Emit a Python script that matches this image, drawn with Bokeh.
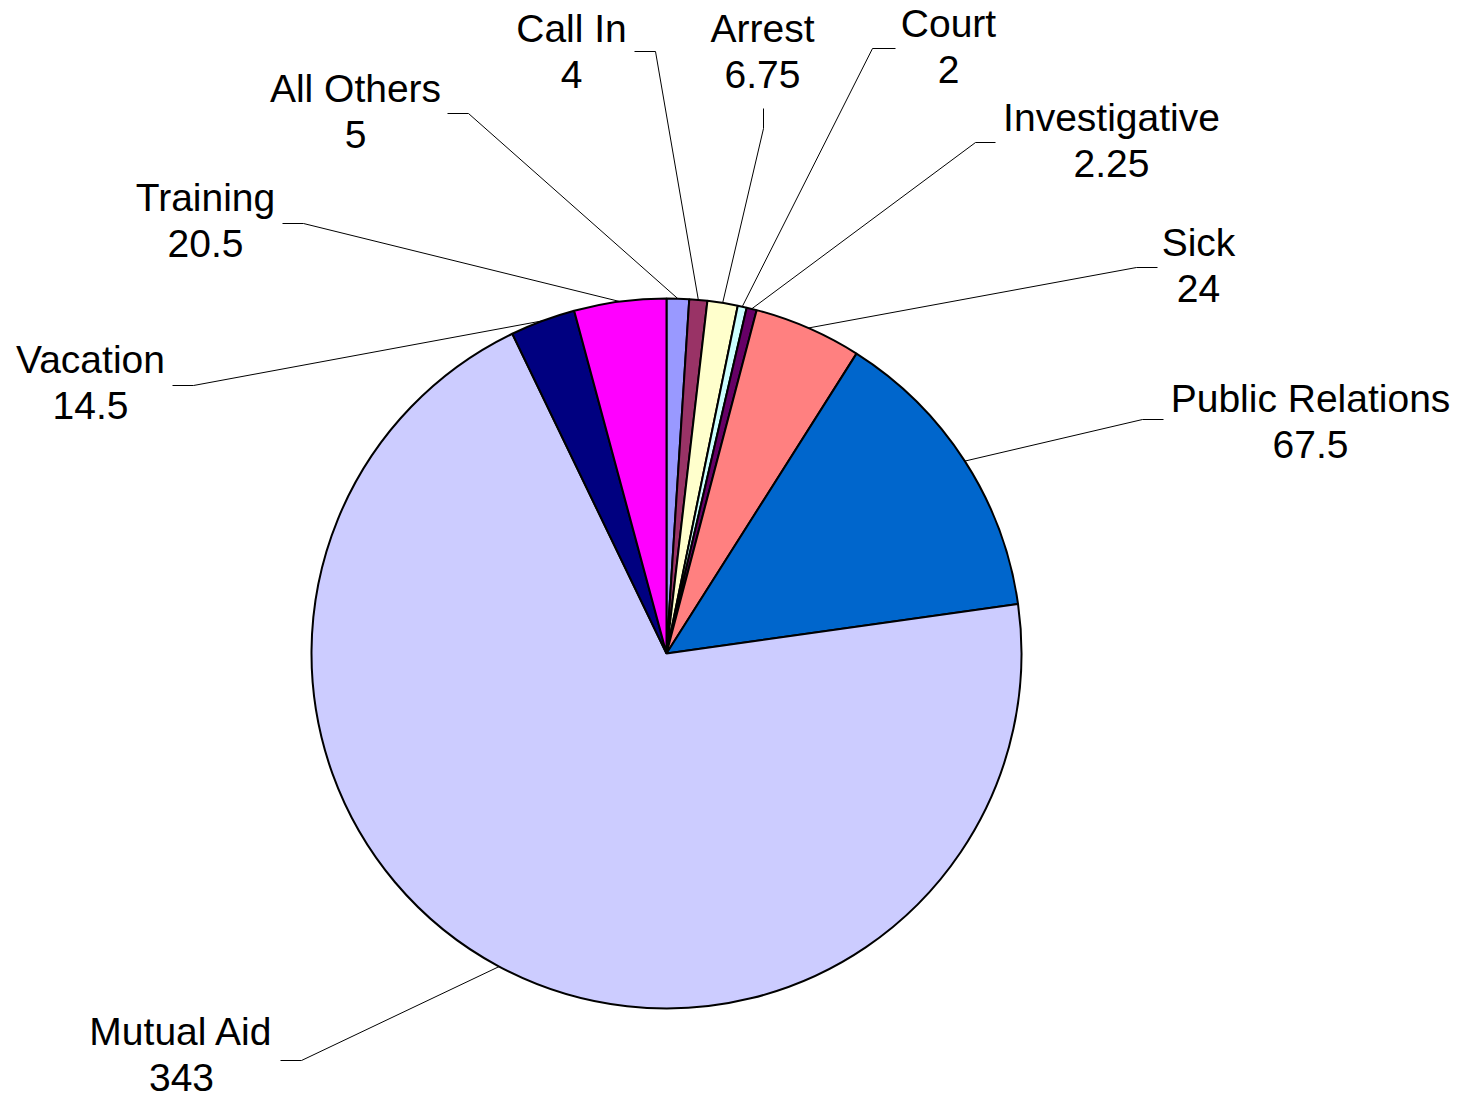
import math
from bokeh.plotting import figure
from bokeh.models import Range1d, ColumnDataSource
from bokeh.core.properties import value
from bokeh.embed import file_html
from bokeh.resources import INLINE

# ---- data ----
categories = ["All Others", "Call In", "Arrest", "Court", "Investigative",
              "Sick", "Public Relations", "Mutual Aid", "Vacation", "Training"]
values = [5, 4, 6.75, 2, 2.25, 24, 67.5, 343, 14.5, 20.5]
value_labels = ["5", "4", "6.75", "2", "2.25", "24", "67.5", "343", "14.5", "20.5"]
colors = ["#9999FF", "#993366", "#FFFFCC", "#CCFFFF", "#660066",
          "#FF8080", "#0066CC", "#CCCCFF", "#000080", "#FF00FF"]

# ---- layout (picture pixel coordinates, y downward) ----
FW, FH = 1450, 1103
H = 1119
CX, CY, R = 666, 653, 355
TEXT_SHIFT = 15  # rendered baseline offset correction
label_x = [355, 571, 762, 948, 1111, 1198, 1310, 181, 90, 205]
label_y = [103, 43, 43, 38, 132, 257, 413, 1046, 374, 212]
# leader: outer point near label, elbow point
lead_outer = [(447, 113), (634, 51), (763, 108), (895, 48), (995, 142),
              (1157, 267), (1163, 419), (280, 1060), (172, 385), (282, 223)]
lead_elbow = [(468, 113), (655, 51), (763, 128), (872, 48), (975, 142),
              (1136, 267), (1142, 419), (301, 1060), (193, 385), (303, 223)]

def fy(py):
    return H - py

total = sum(values)
starts, ends, mids = [], [], []
c = 0.0
for v in values:
    a0 = math.pi / 2 - 2 * math.pi * c / total
    c += v
    a1 = math.pi / 2 - 2 * math.pi * c / total
    starts.append(a0)
    ends.append(a1)
    mids.append((a0 + a1) / 2)

p = figure(width=FW, height=FH, x_range=Range1d(0, FW), y_range=Range1d(H - FH, H),
           output_backend="svg", toolbar_location=None, min_border=0)
p.axis.visible = False
p.grid.visible = False
p.outline_line_color = None
p.background_fill_color = "white"
p.border_fill_color = "white"

src = ColumnDataSource(dict(start=starts, end=ends, color=colors, cat=categories))
p.wedge(x=CX, y=fy(CY), radius=R, start_angle="start", end_angle="end",
        direction="clock", fill_color="color", line_color="black", line_width=2,
        source=src)

xs, ys = [], []
for i, m in enumerate(mids):
    ex = CX + R * math.cos(m)
    ey = fy(CY) + R * math.sin(m)
    xs.append([lead_outer[i][0], lead_elbow[i][0], ex])
    ys.append([fy(lead_outer[i][1]), fy(lead_elbow[i][1]), ey])
p.multi_line(xs=xs, ys=ys, line_color="black", line_width=1)

p.text(x=label_x, y=[fy(v - TEXT_SHIFT) for v in label_y], text=categories,
       text_align="center", text_baseline="alphabetic",
       text_font=value("Liberation Sans"), text_font_size="39px", text_color="black")
p.text(x=label_x, y=[fy(v + 46 - TEXT_SHIFT) for v in label_y], text=value_labels,
       text_align="center", text_baseline="alphabetic",
       text_font=value("Liberation Sans"), text_font_size="39px", text_color="black")

open("out.html", "w").write(file_html(p, INLINE))
